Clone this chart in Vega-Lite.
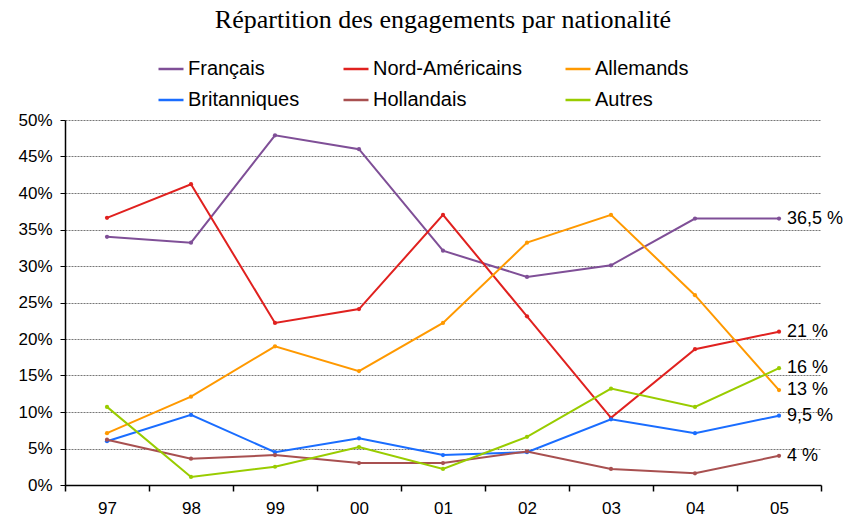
{
  "$schema": "https://vega.github.io/schema/vega-lite/v6.json",
  "width": 756,
  "height": 365,
  "autosize": {"type": "none"},
  "padding": {"left": 65, "top": 120, "right": 26, "bottom": 37},
  "background": "white",
  "title": {"text": "Répartition des engagements par nationalité", "font": "Liberation Serif", "fontSize": 26, "fontWeight": "normal", "color": "#000", "anchor": "middle", "offset": 22},
  "datasets": {
    "series": [
      {"annee": "97", "nat": "Français", "v": 34.0},
      {"annee": "98", "nat": "Français", "v": 33.2},
      {"annee": "99", "nat": "Français", "v": 47.9},
      {"annee": "00", "nat": "Français", "v": 46.0},
      {"annee": "01", "nat": "Français", "v": 32.1},
      {"annee": "02", "nat": "Français", "v": 28.5},
      {"annee": "03", "nat": "Français", "v": 30.1},
      {"annee": "04", "nat": "Français", "v": 36.5},
      {"annee": "05", "nat": "Français", "v": 36.5},
      {"annee": "97", "nat": "Nord-Américains", "v": 36.6},
      {"annee": "98", "nat": "Nord-Américains", "v": 41.2},
      {"annee": "99", "nat": "Nord-Américains", "v": 22.2},
      {"annee": "00", "nat": "Nord-Américains", "v": 24.1},
      {"annee": "01", "nat": "Nord-Américains", "v": 37.0},
      {"annee": "02", "nat": "Nord-Américains", "v": 23.1},
      {"annee": "03", "nat": "Nord-Américains", "v": 9.2},
      {"annee": "04", "nat": "Nord-Américains", "v": 18.6},
      {"annee": "05", "nat": "Nord-Américains", "v": 21.0},
      {"annee": "97", "nat": "Allemands", "v": 7.1},
      {"annee": "98", "nat": "Allemands", "v": 12.1},
      {"annee": "99", "nat": "Allemands", "v": 19.0},
      {"annee": "00", "nat": "Allemands", "v": 15.6},
      {"annee": "01", "nat": "Allemands", "v": 22.2},
      {"annee": "02", "nat": "Allemands", "v": 33.2},
      {"annee": "03", "nat": "Allemands", "v": 37.0},
      {"annee": "04", "nat": "Allemands", "v": 26.0},
      {"annee": "05", "nat": "Allemands", "v": 13.0},
      {"annee": "97", "nat": "Britanniques", "v": 6.0},
      {"annee": "98", "nat": "Britanniques", "v": 9.6},
      {"annee": "99", "nat": "Britanniques", "v": 4.5},
      {"annee": "00", "nat": "Britanniques", "v": 6.4},
      {"annee": "01", "nat": "Britanniques", "v": 4.1},
      {"annee": "02", "nat": "Britanniques", "v": 4.5},
      {"annee": "03", "nat": "Britanniques", "v": 9.0},
      {"annee": "04", "nat": "Britanniques", "v": 7.1},
      {"annee": "05", "nat": "Britanniques", "v": 9.5},
      {"annee": "97", "nat": "Hollandais", "v": 6.2},
      {"annee": "98", "nat": "Hollandais", "v": 3.6},
      {"annee": "99", "nat": "Hollandais", "v": 4.1},
      {"annee": "00", "nat": "Hollandais", "v": 3.0},
      {"annee": "01", "nat": "Hollandais", "v": 3.0},
      {"annee": "02", "nat": "Hollandais", "v": 4.6},
      {"annee": "03", "nat": "Hollandais", "v": 2.2},
      {"annee": "04", "nat": "Hollandais", "v": 1.6},
      {"annee": "05", "nat": "Hollandais", "v": 4.0},
      {"annee": "97", "nat": "Autres", "v": 10.7},
      {"annee": "98", "nat": "Autres", "v": 1.1},
      {"annee": "99", "nat": "Autres", "v": 2.5},
      {"annee": "00", "nat": "Autres", "v": 5.2},
      {"annee": "01", "nat": "Autres", "v": 2.2},
      {"annee": "02", "nat": "Autres", "v": 6.6},
      {"annee": "03", "nat": "Autres", "v": 13.2},
      {"annee": "04", "nat": "Autres", "v": 10.7},
      {"annee": "05", "nat": "Autres", "v": 16.0}
    ],
    "labels": [
      {"annee": "05", "nat": "Français", "v": 36.5, "label": "36,5 %"},
      {"annee": "05", "nat": "Nord-Américains", "v": 21.0, "label": "21 %"},
      {"annee": "05", "nat": "Autres", "v": 16.0, "label": "16 %"},
      {"annee": "05", "nat": "Allemands", "v": 13.0, "label": "13 %"},
      {"annee": "05", "nat": "Britanniques", "v": 9.5, "label": "9,5 %"},
      {"annee": "05", "nat": "Hollandais", "v": 4.0, "label": "4 %"}
    ]
  },
  "config": {
    "view": {"stroke": null},
    "font": "Liberation Sans",
    "axis": {"labelFont": "Liberation Sans", "labelFontSize": 17, "labelColor": "#000", "domainColor": "#000", "tickColor": "#000", "title": null}
  },
  "encoding": {
    "x": {"field": "annee", "type": "ordinal", "sort": ["97","98","99","00","01","02","03","04","05"],
      "scale": {"paddingInner": 0, "paddingOuter": 0},
      "axis": {"labelAngle": 0, "tickBand": "extent", "tickSize": 6, "labelPadding": 9, "domainWidth": 1.5, "tickWidth": 1.5, "grid": false}},
    "y": {"field": "v", "type": "quantitative",
      "scale": {"domain": [0, 50], "nice": false},
      "axis": {"values": [0,5,10,15,20,25,30,35,40,45,50], "labelExpr": "datum.value + '%'", "tickSize": 5, "labelPadding": 8, "domainWidth": 1.5,
        "grid": true, "gridColor": "#777", "gridDash": [2, 1], "gridWidth": 1}}
  },
  "layer": [
    {
      "data": {"name": "series"},
      "mark": {"type": "line", "strokeWidth": 2, "point": {"filled": true, "size": 18}},
      "encoding": {
        "color": {"field": "nat", "type": "nominal",
          "scale": {"domain": ["Français","Nord-Américains","Allemands","Britanniques","Hollandais","Autres"],
            "range": ["#7f4f97","#e0211f","#ff9900","#1a6dff","#a85050","#99cc00"]},
          "legend": {"title": null, "orient": "none", "legendX": 92, "legendY": -65, "direction": "horizontal", "columns": 3,
            "columnPadding": 38, "rowPadding": 7, "labelFont": "Liberation Sans", "labelFontSize": 20, "labelColor": "#000",
            "symbolType": "stroke", "symbolStrokeWidth": 2.5, "symbolSize": 625, "labelOffset": 3}}
      }
    },
    {
      "data": {"name": "labels"},
      "mark": {"type": "text", "align": "left", "baseline": "middle", "dx": 8, "fontSize": 18, "font": "Liberation Sans", "color": "#000"},
      "encoding": {"text": {"field": "label"}}
    }
  ]
}
